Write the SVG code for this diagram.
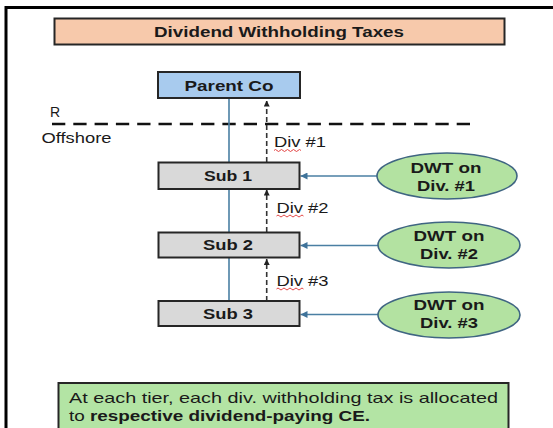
<svg xmlns="http://www.w3.org/2000/svg" width="553" height="428" viewBox="0 0 553 428">
<defs>
<style>
text{font-family:"Liberation Sans",Arial,sans-serif;fill:#1a1a1a}
.b{font-weight:bold}
.box{stroke:#262626;stroke-width:2}
.blue{stroke:#4a7fa3;stroke-width:1.6;fill:none}
.dash{stroke:#333;stroke-width:1.6;stroke-dasharray:5 3;fill:none}
.ell{fill:#b3e2a1;stroke:#3f6582;stroke-width:1.6}
.sq{stroke:#e03030;stroke-width:0.9;fill:none}
</style>
<marker id="ab" viewBox="0 0 10 10" refX="10" refY="5" markerWidth="6" markerHeight="6" markerUnits="userSpaceOnUse" orient="auto"><path d="M0,0 L10,5 L0,10 z" fill="#222"/></marker>
<marker id="ablue" viewBox="0 0 10 10" refX="10" refY="5" markerWidth="7" markerHeight="7" markerUnits="userSpaceOnUse" orient="auto"><path d="M0,0 L10,5 L0,10 z" fill="#3f739a"/></marker>
</defs>
<rect width="553" height="428" fill="#fff"/>
<path d="M6,428 V7.5 H553" fill="none" stroke="#000" stroke-width="3"/>

<g id="title">
<rect class="box" x="54.5" y="18.5" width="450" height="26" fill="#f7c9ab"/>
<text class="b" x="279" y="37" font-size="15" text-anchor="middle" textLength="250" lengthAdjust="spacingAndGlyphs">Dividend Withholding Taxes</text>
</g>

<g id="boundary">
<line x1="52" y1="124" x2="471" y2="124" stroke="#111" stroke-width="2.6" stroke-dasharray="13.3 8"/>
<text x="50" y="117" font-size="14">R</text>
<text x="41.5" y="143" font-size="15" textLength="70" lengthAdjust="spacingAndGlyphs">Offshore</text>
</g>

<g id="connectors">
<line class="blue" x1="229" y1="98" x2="229" y2="162"/>
<line class="blue" x1="229" y1="189" x2="229" y2="232"/>
<line class="blue" x1="229" y1="258" x2="229" y2="301"/>
<line class="dash" x1="266.7" y1="162" x2="266.7" y2="100.5" marker-end="url(#ab)"/>
<line class="dash" x1="266.7" y1="232" x2="266.7" y2="189.5" marker-end="url(#ab)"/>
<line class="dash" x1="266.7" y1="301" x2="266.7" y2="259" marker-end="url(#ab)"/>
<line class="blue" x1="377" y1="176" x2="300.5" y2="176" marker-end="url(#ablue)"/>
<line class="blue" x1="378" y1="245.5" x2="300.5" y2="245.5" marker-end="url(#ablue)"/>
<line class="blue" x1="378" y1="314.5" x2="300.5" y2="314.5" marker-end="url(#ablue)"/>
<text x="274" y="147.3" font-size="14" textLength="52" lengthAdjust="spacingAndGlyphs">Div #1</text>
<text x="276.5" y="213" font-size="14" textLength="52" lengthAdjust="spacingAndGlyphs">Div #2</text>
<text x="276.5" y="286" font-size="14" textLength="52" lengthAdjust="spacingAndGlyphs">Div #3</text>
<path class="sq" d="M274,150.5 q1.5,-2 3,0 t3,0 t3,0 t3,0 t3,0 t3,0 t3,0 t3,0 t3,0"/>
<path class="sq" d="M276.5,216 q1.5,-2 3,0 t3,0 t3,0 t3,0 t3,0 t3,0 t3,0 t3,0 t3,0"/>
<path class="sq" d="M276.5,289 q1.5,-2 3,0 t3,0 t3,0 t3,0 t3,0 t3,0 t3,0 t3,0 t3,0"/>
</g>

<g id="parent">
<rect class="box" x="158" y="72" width="142" height="26" fill="#a8cbee"/>
<text class="b" x="229" y="90.7" font-size="15" text-anchor="middle" textLength="89" lengthAdjust="spacingAndGlyphs">Parent Co</text>
</g>
<g id="sub1">
<rect class="box" x="158.5" y="162.5" width="141" height="26.5" fill="#d9d9d9"/>
<text class="b" x="228" y="180.7" font-size="14.5" text-anchor="middle" textLength="48" lengthAdjust="spacingAndGlyphs">Sub 1</text>
</g>
<g id="sub2">
<rect class="box" x="158.5" y="232.5" width="141" height="25" fill="#d9d9d9"/>
<text class="b" x="228" y="250" font-size="14.5" text-anchor="middle" textLength="50" lengthAdjust="spacingAndGlyphs">Sub 2</text>
</g>
<g id="sub3">
<rect class="box" x="158.5" y="301" width="141" height="25" fill="#d9d9d9"/>
<text class="b" x="228" y="318.5" font-size="14.5" text-anchor="middle" textLength="50" lengthAdjust="spacingAndGlyphs">Sub 3</text>
</g>

<g id="dwt1">
<ellipse class="ell" cx="447" cy="176" rx="70" ry="23"/>
<text class="b" x="446" y="173" font-size="14.5" text-anchor="middle" textLength="71" lengthAdjust="spacingAndGlyphs">DWT on</text>
<text class="b" x="446" y="190.5" font-size="14.5" text-anchor="middle" textLength="58" lengthAdjust="spacingAndGlyphs">Div. #1</text>
</g>
<g id="dwt2">
<ellipse class="ell" cx="449" cy="245" rx="71" ry="23"/>
<text class="b" x="449" y="240.5" font-size="14.5" text-anchor="middle" textLength="71" lengthAdjust="spacingAndGlyphs">DWT on</text>
<text class="b" x="449" y="258.5" font-size="14.5" text-anchor="middle" textLength="58" lengthAdjust="spacingAndGlyphs">Div. #2</text>
</g>
<g id="dwt3">
<ellipse class="ell" cx="449" cy="315" rx="71" ry="23"/>
<text class="b" x="449" y="310" font-size="14.5" text-anchor="middle" textLength="71" lengthAdjust="spacingAndGlyphs">DWT on</text>
<text class="b" x="449" y="328" font-size="14.5" text-anchor="middle" textLength="58" lengthAdjust="spacingAndGlyphs">Div. #3</text>
</g>

<g id="note">
<rect class="box" x="58.5" y="383" width="450" height="50" fill="#b3e4a4"/>
<text x="69" y="403.3" font-size="15" textLength="429" lengthAdjust="spacingAndGlyphs">At each tier, each div. withholding tax is allocated</text>
<text x="69" y="420.5" font-size="15" textLength="301" lengthAdjust="spacingAndGlyphs">to <tspan class="b">respective dividend-paying CE.</tspan></text>
</g>
</svg>
